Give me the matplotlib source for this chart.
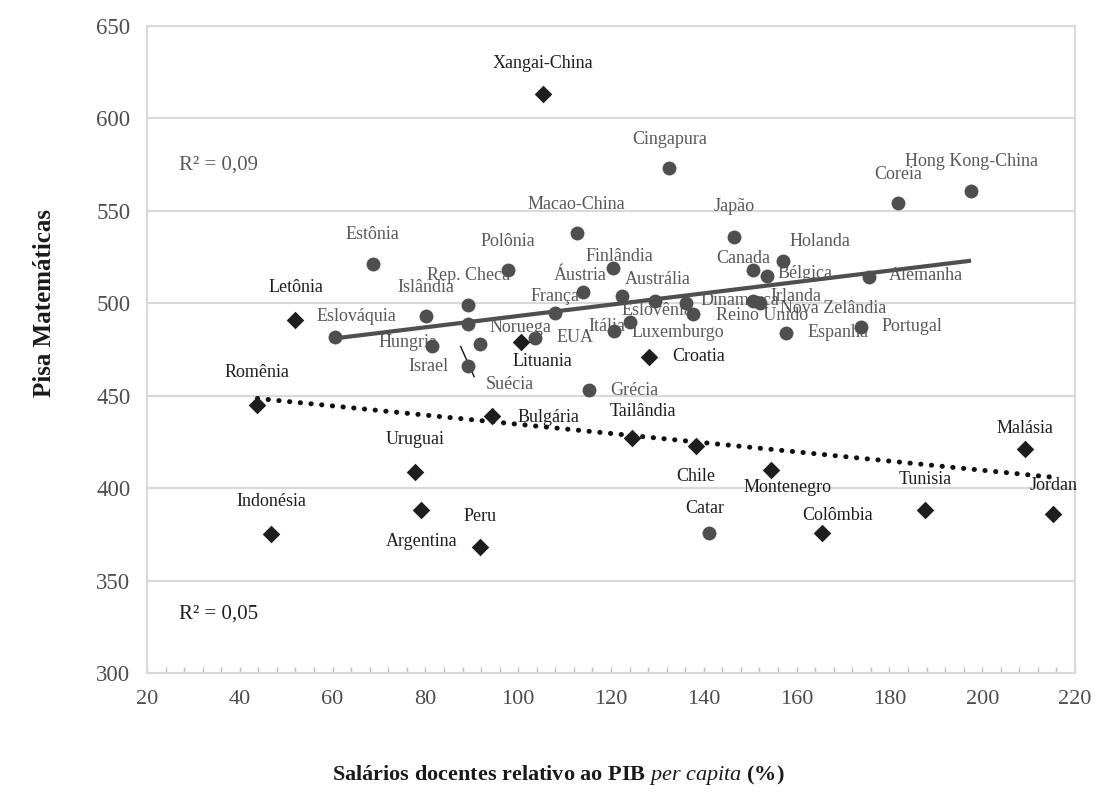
import numpy as np
import matplotlib
matplotlib.use("Agg")
import matplotlib.pyplot as plt
from matplotlib.ticker import MultipleLocator

plt.rcParams["font.family"] = ["Liberation Serif", "DejaVu Serif"]
plt.rcParams["mathtext.fontset"] = "custom"
plt.rcParams["mathtext.rm"] = "Liberation Serif"
plt.rcParams["mathtext.it"] = "Liberation Serif:italic"
plt.rcParams["mathtext.bf"] = "Liberation Serif:bold"

# OECD and partner economies drawn as circles
oecd_names = ["Hong Kong-China", "Coreia", "Alemanha", "Portugal", "Macao-China", "Japão",
              "Holanda", "Canada", "Bélgica", "Finlândia", "Áustria", "Austrália",
              "Eslovênia", "Dinamarca", "Reino Unido", "Irlanda", "Nova Zelândia", "Espanha",
              "França", "Luxemburgo", "Itália", "EUA", "Grécia", "Estônia", "Polônia",
              "Rep. Checa", "Islândia", "Noruega", "Eslováquia", "Hungria", "Suécia",
              "Israel", "Cingapura", "Catar"]
oecd_salary = [197.6, 181.8, 175.5, 173.8, 112.6, 146.6,
               157.1, 150.7, 153.7, 120.5, 114.0, 122.3,
               129.5, 136.1, 137.7, 150.7, 152.1, 157.7,
               107.9, 124.1, 120.6, 103.6, 115.3, 68.6, 97.7,
               89.2, 80.1, 89.2, 60.5, 81.4, 91.8,
               89.2, 132.6, 141.1]
oecd_pisa = [561, 554, 514, 487, 538, 536,
             523, 518, 515, 519, 506, 504,
             501, 500, 494, 501, 500, 484,
             495, 490, 485, 481, 453, 521, 518,
             499, 493, 489, 482, 477, 478,
             466, 573, 376]

# Other economies drawn as diamonds
other_names = ["Xangai-China", "Letônia", "Romênia", "Indonésia", "Uruguai", "Argentina",
               "Peru", "Bulgária", "Lituania", "Tailândia", "Croatia", "Chile",
               "Montenegro", "Colômbia", "Tunisia", "Malásia", "Jordan"]
other_salary = [105.3, 52.0, 43.8, 46.7, 77.8, 79.1,
                91.8, 94.4, 100.6, 124.5, 128.1, 138.3,
                154.5, 165.5, 187.7, 209.2, 215.3]
other_pisa = [613, 491, 445, 375, 409, 388,
              368, 439, 479, 427, 471, 423,
              410, 376, 388, 421, 386]

x_ticks = list(range(20, 221, 20))
y_ticks = list(range(300, 651, 50))

# label placement: (dx, dy) in pixels from the marker, horizontal alignment
label_pos = {
    "Hong Kong-China": (0, -29, "center"), "Coreia": (0, -29, "center"),
    "Alemanha": (20, -2, "left"), "Portugal": (21, -1, "left"),
    "Macao-China": (0, -29, "center"), "Japão": (0, -30, "center"),
    "Holanda": (6, -19, "left"), "Canada": (-10, -12, "center"),
    "Bélgica": (10, -2, "left"), "Finlândia": (6, -12, "center"),
    "Áustria": (-3, -17, "center"), "Austrália": (3, -16, "left"),
    "Eslovênia": (2, 9, "center"), "Dinamarca": (15, -3, "left"),
    "Reino Unido": (23, 1, "left"), "Irlanda": (17, -5, "left"),
    "Nova Zelândia": (20, 5, "left"), "Espanha": (22, 0, "left"),
    "França": (0, -16, "center"), "Luxemburgo": (1, 11, "left"),
    "Itália": (-7, -5, "center"), "EUA": (22, -1, "left"),
    "Grécia": (21, 0, "left"), "Estônia": (0, -30, "center"),
    "Polônia": (0, -29, "center"), "Rep. Checa": (0, -30, "center"),
    "Islândia": (0, -29, "center"), "Noruega": (21, 4, "left"),
    "Eslováquia": (-18, -20, "left"), "Hungria": (-24, -3, "center"),
    "Suécia": (6, 41, "left"), "Israel": (-40, 0, "center"),
    "Cingapura": (0, -29, "center"), "Catar": (-4, -24, "center"),
    "Xangai-China": (0, -31, "center"), "Letônia": (0, -32, "center"),
    "Romênia": (0, -32, "center"), "Indonésia": (0, -33, "center"),
    "Uruguai": (0, -32, "center"), "Argentina": (0, 31, "center"),
    "Peru": (0, -31, "center"), "Bulgária": (25, 1, "left"),
    "Lituania": (-8, 19, "left"), "Tailândia": (11, -27, "center"),
    "Croatia": (24, 0, "left"), "Chile": (0, 31, "center"),
    "Montenegro": (16, 18, "center"), "Colômbia": (15, -17, "center"),
    "Tunisia": (0, -31, "center"), "Malásia": (0, -21, "center"),
    "Jordan": (0, -29, "center"),
}

GRID = "#d9d9d9"
CIRCLE = "#4f4f4f"
DIAMOND = "#1e1e1e"
LABEL_GRAY = "#595959"
LABEL_DARK = "#1e1e1e"

fig = plt.figure(figsize=(10.97, 7.92), dpi=100)
ax = fig.add_axes([147 / 1097, 1 - 673 / 792, 928 / 1097, 647 / 792])

ax.set_xlim(20, 220)
ax.set_ylim(300, 650)
ax.set_xticks(x_ticks)
ax.set_yticks(y_ticks)
ax.xaxis.set_minor_locator(MultipleLocator(4))
ax.yaxis.grid(True, color=GRID, linewidth=1.5, zorder=0)
ax.set_axisbelow(True)
for side in ax.spines.values():
    side.set_color(GRID)
    side.set_linewidth(1.5)
ax.tick_params(axis="x", which="both", direction="in", length=4, width=1, color="#bfbfbf",
               labelsize=16, labelcolor="#4d4d4d", pad=12)
ax.tick_params(axis="y", length=0, labelsize=16.5, labelcolor="#4d4d4d", pad=12)

# linear trend lines for each group
def trend(xs, ys, **kw):
    xs = np.asarray(xs, float)
    ys = np.asarray(ys, float)
    b, a = np.polyfit(xs, ys, 1)
    xx = np.array([xs.min(), xs.max()])
    ax.plot(xx, a + b * xx, **kw)

trend(oecd_salary, oecd_pisa, color=CIRCLE, linewidth=3, solid_capstyle="butt", zorder=3)
trend(other_salary, other_pisa, color="#111111", linewidth=3.6,
      linestyle=(0, (0.05, 2.1)), dash_capstyle="round", zorder=3)

ax.scatter(oecd_salary, oecd_pisa, s=100, marker="o", color=CIRCLE, linewidths=0, zorder=5)
ax.scatter(other_salary, other_pisa, s=80, marker="D", color=DIAMOND, linewidths=0, zorder=5)

def put_labels(names, xs, ys, color):
    for n, x, y in zip(names, xs, ys):
        dx, dy, ha = label_pos[n]
        c = LABEL_DARK if n == "Catar" else color
        ax.annotate(n, (x, y), xytext=(dx, -dy), textcoords="offset pixels",
                    ha=ha, va="center", fontsize=13, color=c, zorder=4)

put_labels(oecd_names, oecd_salary, oecd_pisa, LABEL_GRAY)
put_labels(other_names, other_salary, other_pisa, LABEL_DARK)

# leader line next to the Suécia label
ax.plot([87.6, 90.5], [476.6, 460.3], color="#111111", linewidth=1, zorder=4)

ax.text(27, 575, "R² = 0,09", fontsize=15, color=LABEL_GRAY, va="center", ha="left")
ax.text(27, 332, "R² = 0,05", fontsize=15, color=LABEL_DARK, va="center", ha="left")

fig.text(45 / 1097, 1 - 303 / 792, "Pisa Matemáticas", rotation=90, ha="center", va="center",
         fontsize=18, fontweight="bold", color="#1a1a1a")
fig.text(558 / 1097, 1 - 775 / 792,
         r"Salários docentes relativo ao PIB $\mathit{per\ capita}$ (%)",
         ha="center", va="center", fontsize=16, fontweight="bold", color="#1a1a1a")

fig.savefig("out.png", dpi=100, facecolor="white")
